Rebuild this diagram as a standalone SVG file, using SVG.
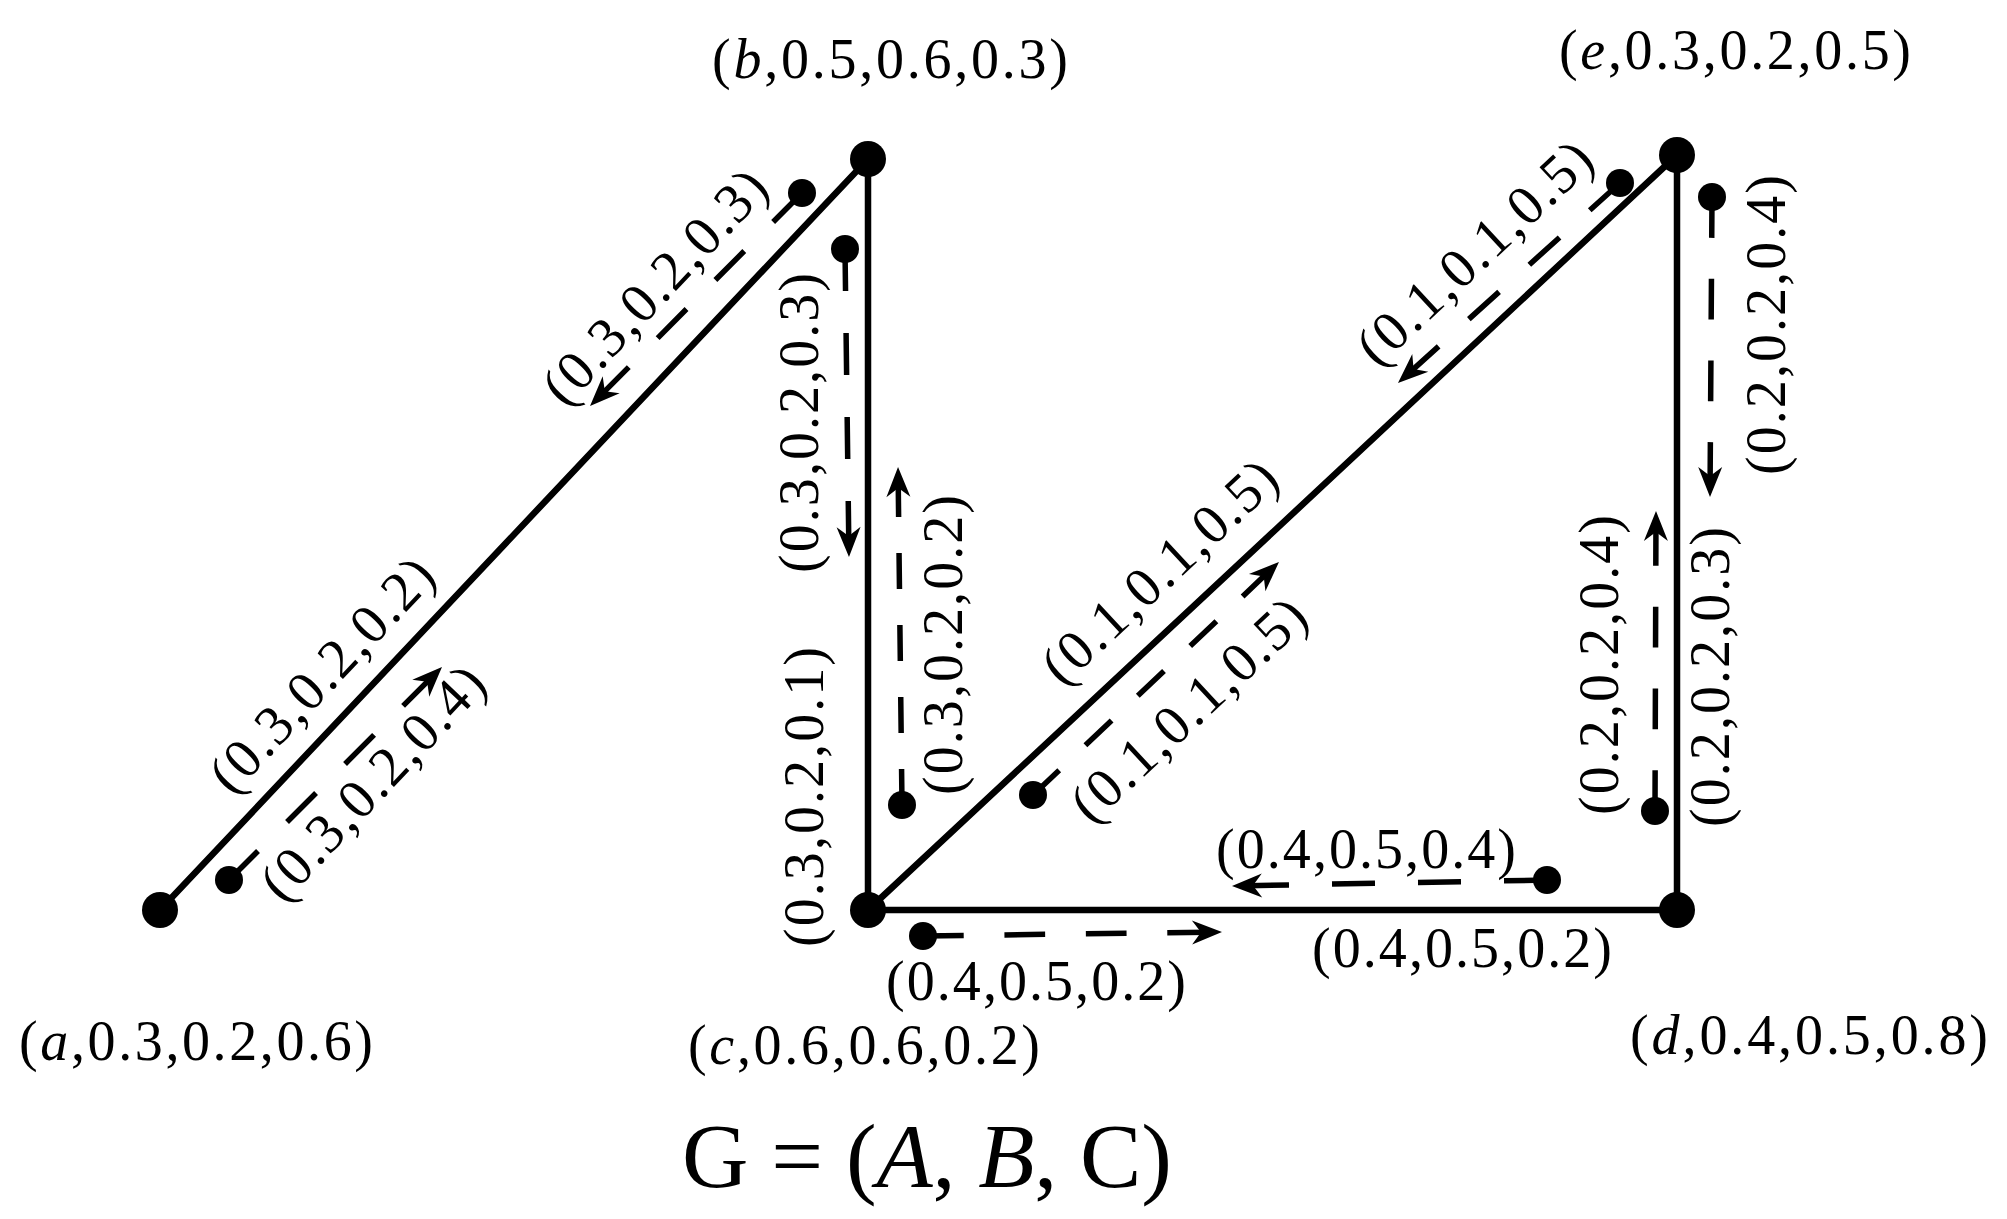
<svg xmlns="http://www.w3.org/2000/svg" width="2007" height="1219" viewBox="0 0 2007 1219">
<style>
text{font-family:"Liberation Serif","Times New Roman",serif;font-size:56px;fill:#000}
.lbl{text-anchor:middle}
.edge{stroke:#000;stroke-width:6.5;fill:none;stroke-linecap:round}
.dash{stroke:#000;stroke-width:5.5;fill:none;stroke-dasharray:1 1}
.node{fill:#000}
.dot{fill:#000}
</style>
<defs>
<marker id="ah" viewBox="-34 -16 36 32" refX="-14" refY="0" markerWidth="36" markerHeight="32" markerUnits="userSpaceOnUse" orient="auto">
<path d="M0,0 L-30,-12 L-21,0 L-30,12 Z" fill="#000"/>
</marker>
</defs>
<rect width="2007" height="1219" fill="#fff"/>
<g id="connectors">
<line class="edge" x1="160" y1="910" x2="868" y2="159"/>
<line class="edge" x1="868" y1="159" x2="868" y2="910"/>
<line class="edge" x1="868" y1="910" x2="1677" y2="155"/>
<line class="edge" x1="868" y1="910" x2="1677" y2="910"/>
<line class="edge" x1="1677" y1="910" x2="1677" y2="155"/>
<g id="arrow-ab-lower"><circle class="dot" cx="229" cy="880" r="14"/><path class="dash" pathLength="7" d="M229,880 L432.1,676.9" marker-end="url(#ah)"/></g>
<g id="arrow-ab-upper"><circle class="dot" cx="802" cy="193" r="14"/><path class="dash" pathLength="7" d="M802,193 L599.9,396.1" marker-end="url(#ah)"/></g>
<g id="arrow-bc-left"><circle class="dot" cx="845" cy="249" r="14"/><path class="dash" pathLength="7" d="M845,249 L848.8,543" marker-end="url(#ah)"/></g>
<g id="arrow-bc-right"><circle class="dot" cx="902" cy="805" r="14"/><path class="dash" pathLength="9" d="M902,805 L898.2,481" marker-end="url(#ah)"/></g>
<g id="arrow-ce-lower"><circle class="dot" cx="1033" cy="795" r="14"/><path class="dash" pathLength="9" d="M1033,795 L1268.8,571.6" marker-end="url(#ah)"/></g>
<g id="arrow-ce-upper"><circle class="dot" cx="1620" cy="183" r="14"/><path class="dash" pathLength="7" d="M1620,183 L1408.4,373.6" marker-end="url(#ah)"/></g>
<g id="arrow-ed-right"><circle class="dot" cx="1712" cy="197" r="14"/><path class="dash" pathLength="7" d="M1712,197 L1710.1,483" marker-end="url(#ah)"/></g>
<g id="arrow-ed-left"><circle class="dot" cx="1655" cy="811" r="14"/><path class="dash" pathLength="7" d="M1655,811 L1655.95,525" marker-end="url(#ah)"/></g>
<g id="arrow-cd-lower"><circle class="dot" cx="923" cy="936" r="14"/><path class="dash" pathLength="7" d="M923,936 L1208,932.2" marker-end="url(#ah)"/></g>
<g id="arrow-cd-upper"><circle class="dot" cx="1547" cy="880" r="14"/><path class="dash" pathLength="7" d="M1547,880 L1246,885.7" marker-end="url(#ah)"/></g>
</g>
<g id="edge-labels">
<text class="lbl" transform="translate(322,675) rotate(-46.7)" y="18" textLength="300">(0.3,0.2,0.2)</text>
<text class="lbl" transform="translate(373,783) rotate(-46.7)" y="18" textLength="300">(0.3,0.2,0.4)</text>
<text class="lbl" transform="translate(655,287) rotate(-46.7)" y="18" textLength="300">(0.3,0.2,0.3)</text>
<text class="lbl" transform="translate(1160,572) rotate(-43)" y="18" textLength="300">(0.1,0.1,0.5)</text>
<text class="lbl" transform="translate(1189,710) rotate(-43)" y="18" textLength="300">(0.1,0.1,0.5)</text>
<text class="lbl" transform="translate(1475,253) rotate(-43)" y="18" textLength="300">(0.1,0.1,0.5)</text>
<text class="lbl" transform="translate(800,423) rotate(-90)" y="18" textLength="300">(0.3,0.2,0.3)</text>
<text class="lbl" transform="translate(944,645) rotate(-90)" y="18" textLength="300">(0.3,0.2,0.2)</text>
<text class="lbl" transform="translate(805,797) rotate(-90)" y="18" textLength="300">(0.3,0.2,0.1)</text>
<text class="lbl" transform="translate(1767,325) rotate(-90)" y="18" textLength="300">(0.2,0.2,0.4)</text>
<text class="lbl" transform="translate(1600,665) rotate(-90)" y="18" textLength="300">(0.2,0.2,0.4)</text>
<text class="lbl" transform="translate(1711,677) rotate(-90)" y="18" textLength="300">(0.2,0.2,0.3)</text>
<text class="lbl" x="1366" y="868" textLength="300">(0.4,0.5,0.4)</text>
<text class="lbl" x="1462" y="967" textLength="300">(0.4,0.5,0.2)</text>
<text class="lbl" x="1036" y="1000" textLength="300">(0.4,0.5,0.2)</text>
</g>
<g id="node-a"><circle class="node" cx="160" cy="910" r="18"/><text class="lbl" x="196" y="1060" textLength="354">(<tspan font-style="italic">a</tspan>,0.3,0.2,0.6)</text></g>
<g id="node-b"><circle class="node" cx="868" cy="159" r="18"/><text class="lbl" x="890" y="78" textLength="356">(<tspan font-style="italic">b</tspan>,0.5,0.6,0.3)</text></g>
<g id="node-c"><circle class="node" cx="868" cy="910" r="18"/><text class="lbl" x="864" y="1064" textLength="352">(<tspan font-style="italic">c</tspan>,0.6,0.6,0.2)</text></g>
<g id="node-d"><circle class="node" cx="1677" cy="910" r="18"/><text class="lbl" x="1809" y="1054" textLength="358">(<tspan font-style="italic">d</tspan>,0.4,0.5,0.8)</text></g>
<g id="node-e"><circle class="node" cx="1677" cy="155" r="18"/><text class="lbl" x="1735" y="69" textLength="352">(<tspan font-style="italic">e</tspan>,0.3,0.2,0.5)</text></g>
<g id="title"><text class="lbl" x="927" y="1187" style="font-size:92px" textLength="490">G = (<tspan font-style="italic">A</tspan>, <tspan font-style="italic">B</tspan>, C)</text></g>
</svg>
